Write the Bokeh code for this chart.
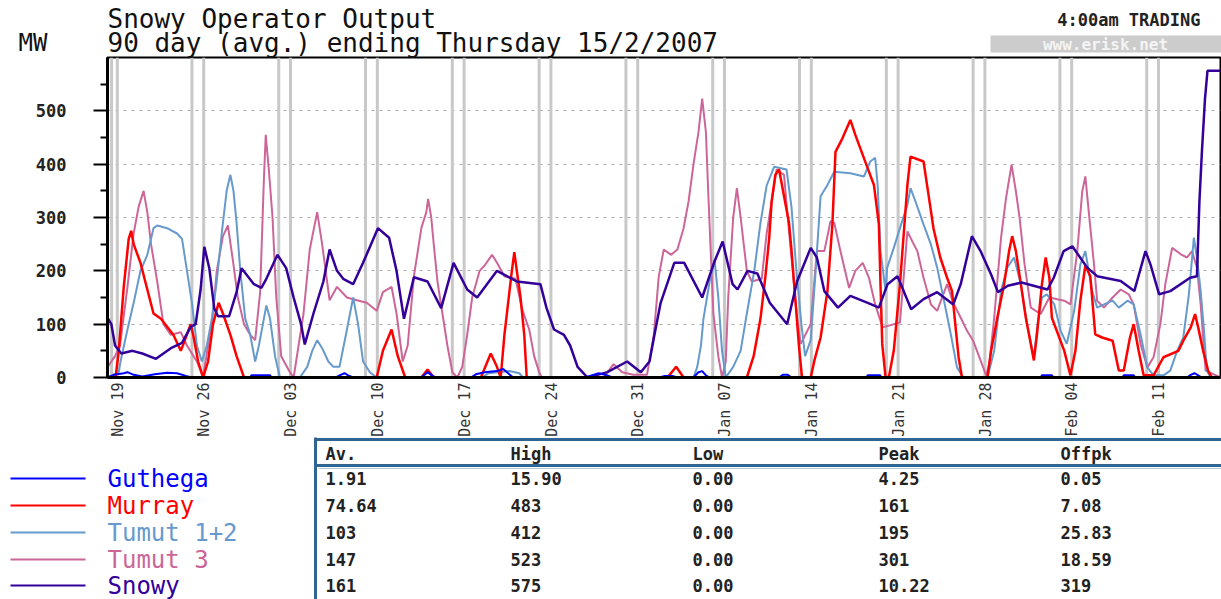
import math
from bokeh.plotting import figure
from bokeh.models import Range1d, FixedTicker, ColumnDataSource
from bokeh.core.properties import value
from bokeh.embed import file_html
from bokeh.resources import INLINE

MONO = "DejaVu Sans Mono"

# ---------------- data ----------------
title_lines = ["Snowy Operator Output", "90 day (avg.) ending Thursday 15/2/2007"]
unit_label = "MW"
trading_label = "4:00am TRADING"
site_label = "www.erisk.net"

# x values are days after Sunday 19 Nov 2006
week_ticks = [0, 7, 14, 21, 28, 35, 42, 49, 56, 63, 70, 77, 84]
week_labels = ["Nov 19", "Nov 26", "Dec 03", "Dec 10", "Dec 17", "Dec 24", "Dec 31",
               "Jan 07", "Jan 14", "Jan 21", "Jan 28", "Feb 04", "Feb 11"]
weekend_lines = [-0.48, -0.02, 6.0, 6.95, 13.0, 13.95, 20.0, 20.95, 27.0, 27.95,
                 34.0, 34.95, 41.0, 41.95, 48.0, 48.95, 55.0, 55.95, 62.0, 62.95,
                 69.0, 69.95, 76.0, 76.95, 83.0, 83.95]
y_major = [0, 100, 200, 300, 400, 500]
y_minor = [50, 150, 250, 350, 450, 550]
grid_levels = [100, 200, 300, 400, 500]

series_names = ["Guthega", "Murray", "Tumut 1+2", "Tumut 3", "Snowy"]
series_colors = ["#0000ff", "#ff0000", "#6699cc", "#cc6699", "#330099"]

guthega = [(-0.8, 0), (-0.3, 5), (0.5, 8), (0.8, 10), (1.3, 5), (2.0, 2), (3.0, 6), (4.0, 9),
           (4.8, 8), (5.5, 3), (6.0, 0), (10.7, 0), (10.8, 4), (12.3, 4), (12.4, 0), (17.6, 0),
           (18.0, 5), (18.3, 8), (18.6, 4), (19.0, 0), (24.5, 0), (25.0, 10), (25.4, 3), (25.7, 0),
           (28.5, 0), (28.9, 6), (29.6, 10), (30.6, 12), (31.1, 16), (31.5, 8), (31.9, 0),
           (37.6, 0), (38.1, 3), (38.8, 8), (39.5, 4), (39.9, 0), (43.65, 0), (44.15, 3),
           (44.75, 3), (45.15, 0), (46.45, 0), (46.85, 10), (47.15, 12), (47.45, 4), (47.75, 0),
           (53.35, 0), (53.65, 5), (54.05, 5), (54.35, 0), (60.4, 0), (60.5, 4), (61.5, 4),
           (61.6, 0), (74.45, 0), (74.55, 4), (75.35, 4), (75.45, 0), (81.05, 0), (81.15, 4),
           (81.95, 4), (82.05, 0), (86.25, 0), (86.55, 5), (86.85, 8), (87.15, 4), (87.45, 0),
           (88.95, 0)]

murray = [(-0.8, 0), (-0.16, 0), (0.1, 50), (0.5, 170), (0.9, 260), (1.1, 275), (1.3, 250),
          (1.85, 215), (2.4, 165), (2.9, 120), (3.5, 110), (4.0, 95), (4.5, 80), (5.1, 50),
          (5.35, 65), (5.9, 100), (6.1, 80), (6.5, 30), (6.9, 0), (7.3, 30), (7.7, 100),
          (8.15, 140), (8.5, 120), (9.1, 80), (9.6, 40), (10.2, 0), (20.9, 0), (21.4, 50),
          (22.1, 90), (22.6, 40), (23.2, 0), (24.5, 0), (25.0, 15), (25.5, 0), (29.3, 0),
          (30.1, 45), (30.6, 20), (30.9, 0), (31.2, 80), (31.6, 160), (31.8, 200), (32.0, 235),
          (32.2, 200), (32.5, 150), (32.8, 80), (33.0, 0), (44.35, 0), (45.05, 20), (45.65, 0),
          (50.75, 0), (51.3, 40), (51.85, 110), (52.25, 190), (52.55, 260), (52.75, 330),
          (53.05, 380), (53.35, 390), (53.75, 340), (54.15, 290), (54.35, 240), (54.65, 150),
          (54.95, 60), (55.2, 0), (55.9, 0), (56.2, 32), (56.7, 75), (57.25, 162), (57.65, 287),
          (57.9, 423), (58.45, 448), (59.1, 483), (59.5, 455), (60.5, 392), (61.0, 361),
          (61.4, 287), (61.53, 175), (61.67, 63), (61.94, 0), (62.2, 0), (62.6, 50), (63.1, 175),
          (63.7, 361), (63.95, 414), (65.0, 405), (65.4, 343), (65.8, 280), (66.35, 225),
          (66.9, 187), (67.3, 162), (67.56, 100), (67.83, 38), (68.1, 0), (70.15, 0), (70.45, 50),
          (70.95, 112), (71.5, 175), (71.9, 237), (72.15, 265), (72.45, 237), (72.85, 175),
          (73.25, 112), (73.65, 63), (73.9, 32), (74.15, 81), (74.55, 175), (74.85, 225),
          (75.15, 187), (75.35, 112), (76.35, 50), (76.85, 4), (77.25, 50), (77.65, 144),
          (78.05, 210), (78.45, 190), (78.85, 81), (79.4, 75), (80.25, 69), (80.75, 13),
          (81.15, 13), (81.65, 75), (81.95, 100), (82.35, 50), (82.75, 4), (83.55, 4),
          (84.35, 38), (85.55, 50), (85.95, 69), (86.55, 94), (86.9, 119), (87.15, 94),
          (87.55, 50), (87.95, 13), (88.25, 0), (88.95, 0)]

tumut12 = [(-0.8, 0), (0.1, 10), (0.24, 30), (0.8, 90), (1.3, 140), (1.85, 200), (2.4, 230),
           (2.9, 280), (3.2, 285), (4.0, 280), (4.8, 270), (5.2, 260), (5.6, 200), (6.0, 140),
           (6.4, 60), (6.8, 30), (7.2, 60), (7.6, 110), (8.0, 180), (8.4, 270), (8.8, 350),
           (9.1, 380), (9.35, 350), (9.6, 290), (9.9, 200), (10.3, 110), (10.7, 80), (11.1, 30),
           (11.4, 60), (11.8, 110), (12.0, 135), (12.3, 110), (12.7, 40), (13.1, 0), (14.7, 0),
           (15.3, 20), (15.7, 50), (16.1, 70), (16.5, 55), (17.0, 30), (17.4, 20), (17.9, 20),
           (18.5, 90), (19.0, 150), (19.4, 100), (19.8, 30), (20.35, 10), (20.9, 0), (29.4, 0),
           (29.9, 8), (31.6, 12), (32.4, 8), (32.7, 0), (46.45, 0), (46.75, 20), (47.05, 60),
           (47.25, 110), (47.75, 180), (48.15, 220), (48.45, 150), (48.75, 50), (49.05, 0),
           (49.65, 20), (50.25, 50), (50.75, 120), (51.35, 200), (51.85, 290), (52.35, 360),
           (52.95, 395), (53.95, 390), (54.35, 320), (54.75, 200), (55.15, 100), (55.45, 40),
           (55.9, 70), (56.3, 200), (56.7, 340), (57.25, 361), (57.8, 386), (59.1, 383),
           (60.2, 377), (60.7, 405), (61.1, 412), (61.3, 361), (61.53, 237), (61.94, 162),
           (62.07, 206), (62.6, 243), (63.1, 280), (63.7, 324), (63.95, 355), (64.35, 330),
           (65.0, 287), (65.6, 249), (66.1, 206), (66.6, 150), (67.2, 81), (67.7, 19), (68.2, 0),
           (70.15, 0), (70.7, 50), (71.25, 162), (71.75, 206), (72.3, 225), (72.85, 175),
           (73.35, 100), (73.9, 38), (74.2, 100), (74.55, 150), (74.95, 156), (75.55, 137),
           (76.05, 88), (76.55, 63), (77.15, 125), (77.65, 212), (78.05, 237), (78.6, 162),
           (79.0, 131), (79.55, 137), (80.25, 144), (80.75, 131), (81.45, 144), (81.95, 137),
           (82.5, 81), (83.05, 19), (83.55, 4), (84.35, 4), (84.9, 13), (85.45, 50), (85.95, 75),
           (86.4, 156), (86.8, 262), (87.05, 225), (87.35, 162), (87.6, 94), (87.85, 13),
           (88.15, 0), (88.95, 0)]

tumut3 = [(-0.8, 20), (-0.2, 40), (0.2, 60), (0.8, 170), (1.3, 270), (1.7, 320), (2.1, 350),
          (2.4, 310), (2.7, 250), (3.2, 180), (3.7, 100), (4.3, 80), (5.1, 85), (5.6, 60),
          (6.4, 30), (6.9, 0), (7.7, 120), (8.0, 200), (8.5, 265), (8.9, 285), (9.3, 220),
          (9.7, 150), (10.2, 100), (10.7, 80), (11.1, 70), (11.5, 160), (11.8, 370), (11.95, 455),
          (12.2, 390), (12.5, 300), (12.8, 150), (13.2, 40), (13.9, 10), (14.2, 0), (14.6, 60),
          (15.0, 120), (15.5, 240), (16.1, 310), (16.5, 250), (16.9, 180), (17.1, 145),
          (17.7, 170), (18.5, 150), (19.3, 145), (20.1, 140), (20.9, 125), (21.4, 160),
          (22.1, 170), (22.5, 120), (23.0, 30), (23.4, 60), (23.9, 190), (24.5, 280), (24.9, 310),
          (25.05, 335), (25.3, 300), (25.5, 250), (25.8, 180), (26.2, 120), (26.6, 60), (27.0, 10),
          (27.4, 0), (27.8, 20), (28.2, 80), (28.6, 150), (29.2, 200), (29.6, 210), (30.2, 230),
          (30.6, 215), (31.2, 190), (32.1, 185), (32.6, 130), (33.2, 90), (33.6, 40), (34.0, 10),
          (34.2, 0), (39.2, 0), (40.0, 25), (40.7, 10), (41.6, 5), (42.7, 5), (43.25, 80),
          (43.65, 190), (44.05, 240), (44.65, 230), (45.15, 240), (45.65, 280), (46.05, 330),
          (46.45, 400), (46.85, 460), (47.15, 523), (47.45, 460), (47.65, 340), (48.05, 120),
          (48.45, 40), (48.75, 0), (49.05, 30), (49.25, 150), (49.65, 300), (49.95, 355),
          (50.25, 300), (50.75, 200), (51.15, 180), (51.95, 185), (52.35, 270), (53.15, 390),
          (53.75, 380), (54.05, 300), (54.45, 200), (54.85, 100), (55.1, 63), (55.9, 100),
          (56.4, 237), (57.0, 237), (57.5, 293), (57.8, 290), (58.3, 237), (59.0, 168),
          (59.5, 200), (60.1, 215), (60.6, 187), (61.1, 137), (61.7, 94), (63.1, 103),
          (63.7, 274), (64.1, 255), (64.5, 237), (65.0, 187), (65.6, 137), (66.1, 125),
          (66.9, 175), (67.4, 140), (68.0, 112), (68.5, 88), (69.0, 69), (69.6, 32), (70.05, 4),
          (70.3, 25), (70.7, 112), (71.25, 262), (71.65, 336), (72.1, 399), (72.45, 349),
          (72.75, 299), (73.15, 212), (73.65, 131), (74.45, 119), (75.15, 150), (76.35, 144),
          (76.85, 137), (77.4, 237), (77.8, 349), (78.05, 377), (78.35, 305), (78.75, 212),
          (79.0, 144), (79.55, 131), (80.25, 150), (80.9, 165), (81.55, 156), (81.95, 137),
          (82.5, 63), (83.05, 19), (83.55, 38), (84.1, 100), (84.5, 175), (85.05, 243),
          (85.75, 231), (86.25, 225), (86.65, 237), (87.05, 206), (87.35, 137), (87.75, 13),
          (88.95, 0)]

snowy = [(-0.8, 112), (-0.5, 100), (-0.2, 60), (0.3, 45), (1.2, 50), (2.0, 45), (3.1, 35),
         (4.3, 55), (5.2, 65), (5.9, 95), (6.3, 100), (6.7, 165), (7.0, 245), (7.4, 205),
         (7.8, 130), (8.1, 115), (9.0, 115), (9.6, 160), (10.0, 205), (10.5, 190), (11.0, 175),
         (11.6, 168), (12.0, 185), (12.9, 230), (13.6, 205), (14.2, 150), (14.8, 100), (15.1, 62),
         (15.8, 120), (16.6, 180), (17.1, 240), (17.7, 200), (18.2, 185), (19.0, 175),
         (19.8, 215), (21.0, 280), (21.9, 262), (22.5, 200), (23.1, 110), (23.9, 188),
         (25.0, 180), (26.1, 130), (27.1, 215), (28.2, 165), (29.0, 150), (30.6, 200),
         (31.4, 190), (32.2, 180), (34.1, 175), (34.6, 130), (35.2, 90), (36.0, 80), (36.5, 60),
         (37.1, 20), (37.9, 0), (38.7, 5), (39.5, 10), (41.1, 30), (42.2, 10), (42.9, 30),
         (43.3, 80), (43.8, 140), (44.9, 215), (45.7, 215), (47.15, 150), (48.1, 215),
         (48.8, 255), (49.6, 175), (50.0, 165), (50.8, 200), (51.6, 195), (52.6, 140),
         (54.0, 100), (54.8, 180), (55.9, 243), (56.4, 225), (57.0, 162), (58.1, 131),
         (59.1, 153), (60.5, 140), (61.4, 131), (62.1, 175), (62.9, 190), (63.4, 162),
         (64.0, 128), (65.0, 147), (66.1, 160), (67.4, 137), (68.0, 175), (68.9, 265),
         (69.6, 237), (70.45, 193), (71.0, 160), (71.8, 172), (72.9, 178), (75.0, 165),
         (75.5, 187), (76.3, 237), (77.0, 246), (78.2, 206), (79.0, 190), (80.9, 181),
         (82.0, 162), (82.9, 237), (83.3, 212), (84.0, 156), (84.9, 162), (86.5, 187),
         (87.05, 190), (87.25, 330), (87.45, 423), (87.7, 523), (87.9, 575), (88.95, 575)]

stat_headers = ["Av.", "High", "Low", "Peak", "Offpk"]
stat_av = ["1.91", "74.64", "103", "147", "161"]
stat_high = ["15.90", "483", "412", "523", "575"]
stat_low = ["0.00", "0.00", "0.00", "0.00", "0.00"]
stat_peak = ["4.25", "161", "195", "301", "10.22"]
stat_offpk = ["0.05", "7.08", "25.83", "18.59", "319"]

# ---------------- figure (frame = plot area, borders hold header / legend / table) ----------------
FL, FR, FT, FB = 107, 1220, 57, 377   # frame edges in page pixels
p = figure(frame_width=FR - FL, frame_height=FB - FT,
           min_border_left=FL, min_border_right=1, min_border_top=FT, min_border_bottom=222,
           x_range=Range1d(-0.81, 88.95), y_range=Range1d(0, 600),
           toolbar_location=None, output_backend="svg")
p.background_fill_color = "white"
p.border_fill_color = "white"
p.outline_line_color = "black"
p.outline_line_width = 2
# page-pixel coordinate system for the decorations around the plot area
p.extra_x_ranges = {"px": Range1d(FL, FR)}
p.extra_y_ranges = {"py": Range1d(FB, FT)}

p.xgrid.visible = False
p.ygrid.ticker = FixedTicker(ticks=grid_levels)
p.ygrid.grid_line_color = "#aaaaaa"
p.ygrid.grid_line_dash = "3 5"
p.ygrid.grid_line_width = 1

wk = ColumnDataSource(dict(x=weekend_lines, y0=[0] * len(weekend_lines),
                           y1=[600] * len(weekend_lines)))
p.segment(x0="x", y0="y0", x1="x", y1="y1", source=wk, line_color="#c8c8c8", line_width=3)

series_data = [guthega, murray, tumut12, tumut3, snowy]
widths = [2, 2.5, 2, 2, 2.5]
draw_order = [3, 2, 1, 4, 0]
for k in draw_order:
    xs = [pt[0] for pt in series_data[k]]
    ys = [pt[1] for pt in series_data[k]]
    p.line(xs, ys, line_color=series_colors[k], line_width=widths[k])

yax = p.yaxis[0]
yax.ticker = FixedTicker(ticks=y_major, minor_ticks=y_minor)
yax.axis_line_width = 3
yax.axis_line_color = "black"
yax.major_tick_out = 14
yax.major_tick_in = 0
yax.minor_tick_out = 7
yax.minor_tick_in = 0
yax.major_tick_line_width = 2
yax.minor_tick_line_width = 2
yax.major_tick_line_color = "black"
yax.minor_tick_line_color = "black"
yax.major_label_standoff = 27
yax.major_label_text_font = MONO
yax.major_label_text_font_style = "bold"
yax.major_label_text_font_size = "17px"
yax.major_label_text_color = "#222222"

xax = p.xaxis[0]
xax.ticker = FixedTicker(ticks=week_ticks, minor_ticks=[])
xax.major_label_overrides = {t: lab for t, lab in zip(week_ticks, week_labels)}
xax.major_label_orientation = math.pi / 2
xax.axis_line_width = 3
xax.axis_line_color = "black"
xax.major_tick_line_color = None
xax.minor_tick_line_color = None
xax.major_tick_out = 0
xax.major_tick_in = 0
xax.major_label_standoff = 5
xax.major_label_text_font = MONO
xax.major_label_text_font_size = "15px"
xax.major_label_text_color = "#333333"


def deco_line(xs, ys, color, width):
    p.line(xs, ys, line_color=color, line_width=width, x_range_name="px", y_range_name="py",
           level="annotation")


def labels(xs, ys, texts, colors, size, style="normal", align="left"):
    src = ColumnDataSource(dict(x=xs, y=ys, text=texts, color=colors))
    p.text(x="x", y="y", text="text", source=src, x_range_name="px", y_range_name="py",
           text_color="color", text_font=value(MONO), text_font_size=value(size),
           text_font_style=value(style), text_align=value(align),
           text_baseline=value("middle"), level="overlay")


# header
p.quad(left=[990], right=[1221], top=[35], bottom=[52], fill_color="#cccccc", line_color=None,
       x_range_name="px", y_range_name="py", level="annotation")
labels([107, 107], [18, 42], title_lines, ["#111111", "#111111"], "26px")
labels([18], [42], [unit_label], ["#111111"], "24px")
labels([1200], [19], [trading_label], ["#222222"], "17px", "bold", "right")
labels([1105], [44], [site_label], ["#f4f4f4"], "16px", "bold", "center")

# legend
row_y = [478, 505, 532, 559, 585]
for i in range(len(series_names)):
    deco_line([10, 85], [row_y[i], row_y[i]], series_colors[i], 2)
labels([107] * len(series_names), row_y, series_names, series_colors, "24px")

# statistics table
deco_line([315, 315], [437, 599], "#2f6493", 3)
deco_line([315, 1221], [439, 439], "#2f6493", 3)
deco_line([315, 1221], [465, 465], "#2f6493", 3)
deco_line([318, 1221], [468, 468], "#b9c9d8", 1)
col_x = [325, 510, 692, 878, 1060]
labels(col_x, [453] * len(stat_headers), stat_headers, ["#222222"] * len(stat_headers),
       "17px", "bold")
cols = [stat_av, stat_high, stat_low, stat_peak, stat_offpk]
tx, ty, tt = [], [], []
for c, colvals in enumerate(cols):
    for r, v in enumerate(colvals):
        tx.append(col_x[c])
        ty.append(row_y[r])
        tt.append(v)
labels(tx, ty, tt, ["#222222"] * len(tt), "17px", "bold")

open("out.html", "w").write(file_html(p, INLINE))
